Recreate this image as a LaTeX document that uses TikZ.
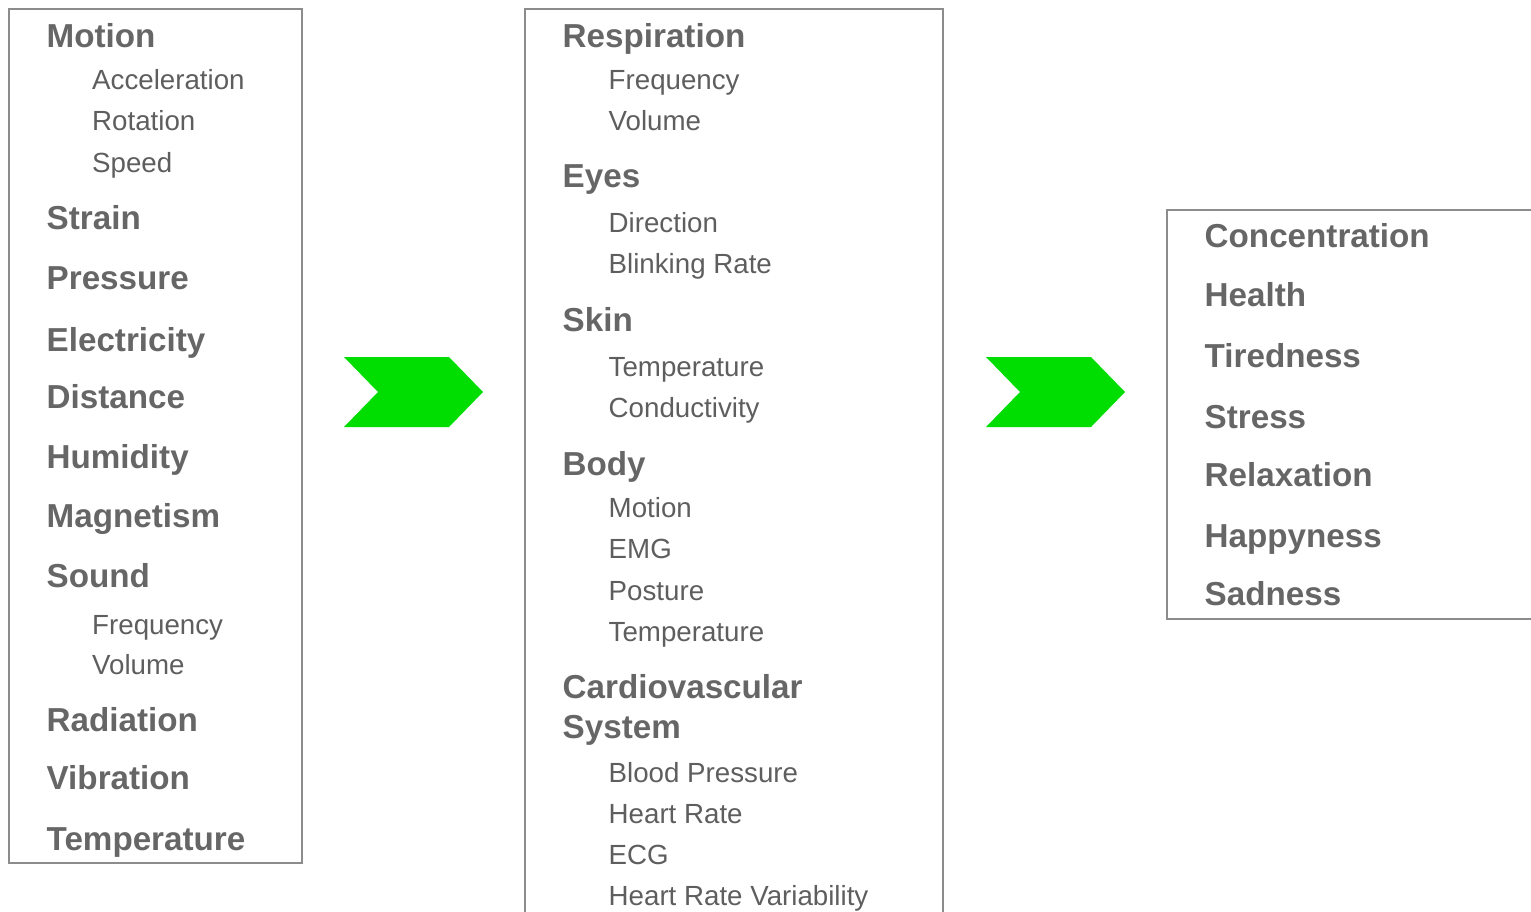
\documentclass[tikz,border=0pt]{standalone}
\usepackage{fontspec}
\setmainfont{Liberation Sans}
\definecolor{txt}{HTML}{666666}
\definecolor{subtxt}{HTML}{5E5E5E}
\definecolor{frame}{HTML}{8C8C8C}
\definecolor{chev}{HTML}{00DD00}
\tikzset{
  head/.style={anchor=base west, inner sep=0pt, text=txt, font=\fontsize{33.2}{36}\selectfont\bfseries},
  sub/.style={anchor=base west, inner sep=0pt, text=subtxt, font=\fontsize{27.7}{30}\selectfont},
  panel/.style={draw=frame, line width=2.5pt},
  chevron/.style={fill=chev, draw=none}
}
\begin{document}
\begin{tikzpicture}[x=1pt,y=-1pt]
\useasboundingbox (0,0) rectangle (1531,911);
\clip (0,0) rectangle (1531,911);
% panels
\draw[panel] (9,9) rectangle (302,863);
\draw[panel] (525,9) rectangle (943,930);
\draw[panel] (1167,210) rectangle (1560,619);
% chevrons
\fill[chevron] (344,357) -- (449,357) -- (483,392) -- (449,427) -- (344,427) -- (378,392) -- cycle;
\fill[chevron] (986,357) -- (1091,357) -- (1125,392) -- (1091,427) -- (986,427) -- (1020,392) -- cycle;
% left column
\node[head] (l1) at (46.5,47) {Motion};
\node[sub] (l1a) at (92,89) {Acceleration};
\node[sub] (l1b) at (92,130) {Rotation};
\node[sub] (l1c) at (92,172) {Speed};
\node[head] (l2) at (46.5,229) {Strain};
\node[head] (l3) at (46.5,289) {Pressure};
\node[head] (l4) at (46.5,351) {Electricity};
\node[head] (l5) at (46.5,408) {Distance};
\node[head] (l6) at (46.5,468) {Humidity};
\node[head] (l7) at (46.5,527) {Magnetism};
\node[head] (l8) at (46.5,587) {Sound};
\node[sub] (l8a) at (92,634) {Frequency};
\node[sub] (l8b) at (92,674) {Volume};
\node[head] (l9) at (46.5,731) {Radiation};
\node[head] (l10) at (46.5,789) {Vibration};
\node[head] (l11) at (46.5,850) {Temperature};
% middle column
\node[head] (m1) at (562.5,47) {Respiration};
\node[sub] (m1a) at (608.5,89) {Frequency};
\node[sub] (m1b) at (608.5,130) {Volume};
\node[head] (m2) at (562.5,187) {Eyes};
\node[sub] (m2a) at (608.5,232) {Direction};
\node[sub] (m2b) at (608.5,273) {Blinking Rate};
\node[head] (m3) at (562.5,331) {Skin};
\node[sub] (m3a) at (608.5,376) {Temperature};
\node[sub] (m3b) at (608.5,417) {Conductivity};
\node[head] (m4) at (562.5,475) {Body};
\node[sub] (m4a) at (608.5,517) {Motion};
\node[sub] (m4b) at (608.5,558) {EMG};
\node[sub] (m4c) at (608.5,600) {Posture};
\node[sub] (m4d) at (608.5,641) {Temperature};
\node[head] (m5) at (562.5,698) {Cardiovascular};
\node[head] (m5s) at (562.5,738) {System};
\node[sub] (m5a) at (608.5,782) {Blood Pressure};
\node[sub] (m5b) at (608.5,823) {Heart Rate};
\node[sub] (m5c) at (608.5,864) {ECG};
\node[sub] (m5d) at (608.5,905) {Heart Rate Variability};
% right column
\node[head] (r1) at (1204.5,247) {Concentration};
\node[head] (r2) at (1204.5,306) {Health};
\node[head] (r3) at (1204.5,367) {Tiredness};
\node[head] (r4) at (1204.5,428) {Stress};
\node[head] (r5) at (1204.5,486) {Relaxation};
\node[head] (r6) at (1204.5,547) {Happyness};
\node[head] (r7) at (1204.5,605) {Sadness};
\end{tikzpicture}
\end{document}
